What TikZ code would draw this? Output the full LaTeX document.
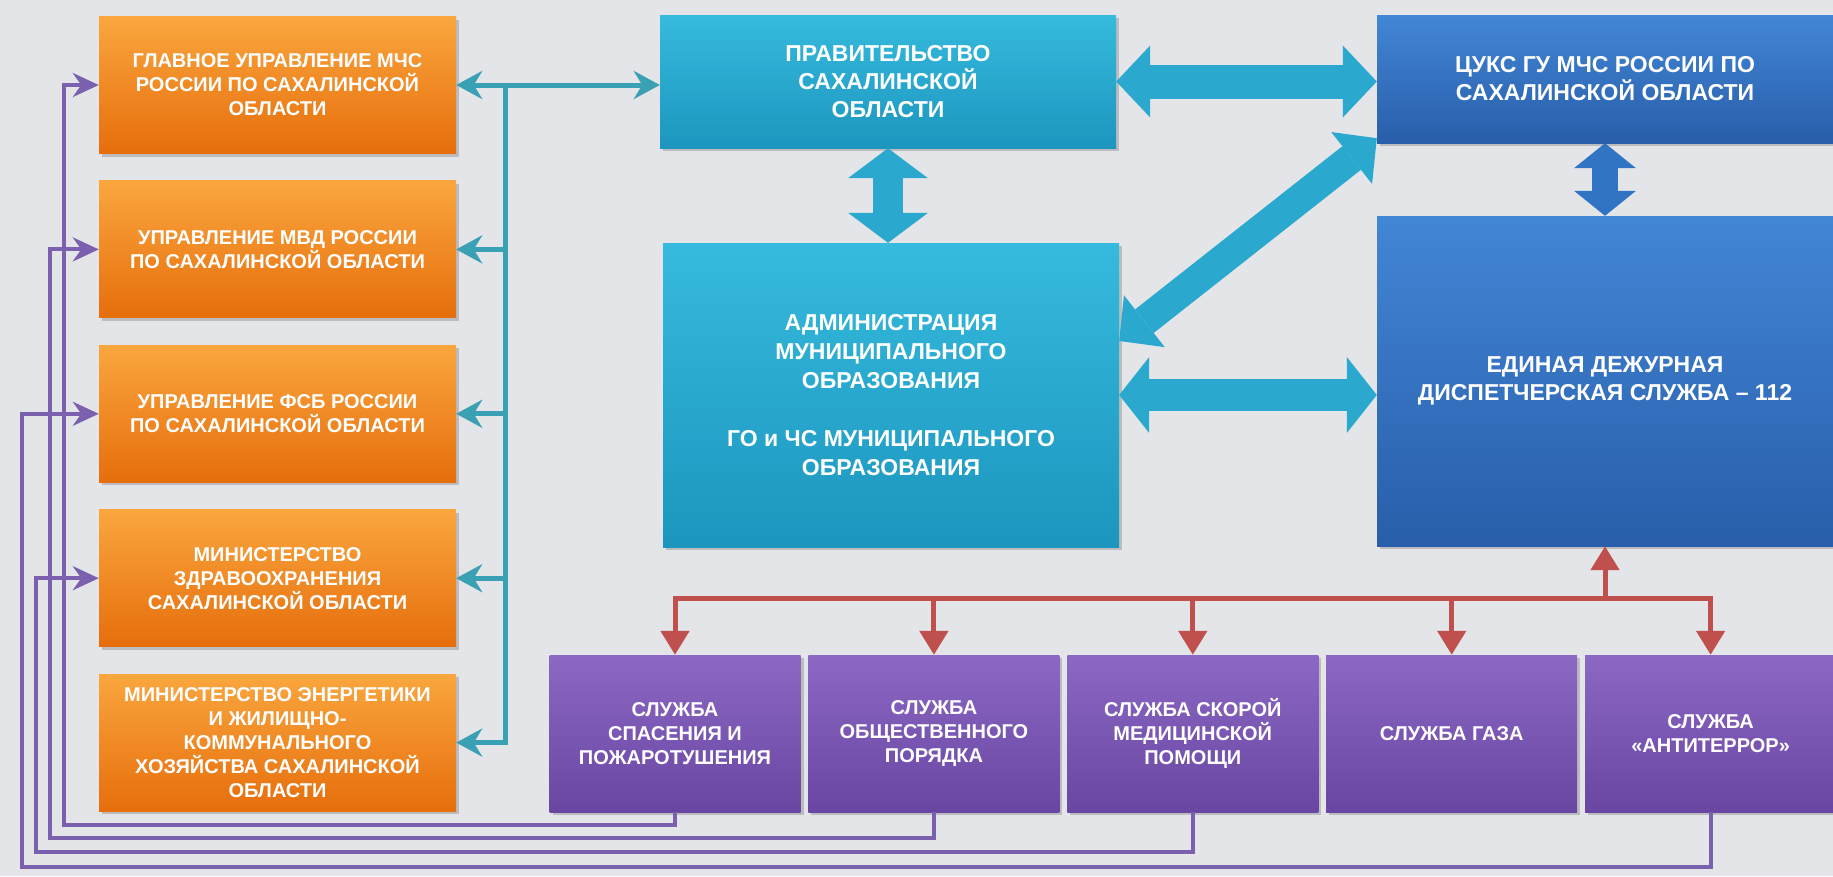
\documentclass[tikz,border=0pt]{standalone}
\usepackage{fontspec}
\setmainfont{Liberation Sans}
\usepackage{tikz}
\usetikzlibrary{arrows.meta,positioning,shadows}
\definecolor{orangetop}{RGB}{250,166,62}
\definecolor{orangebot}{RGB}{230,110,12}
\definecolor{cyantop}{RGB}{54,186,222}
\definecolor{cyanbot}{RGB}{28,150,190}
\definecolor{bluetop}{RGB}{66,134,214}
\definecolor{bluebot}{RGB}{40,94,170}
\definecolor{purptop}{RGB}{140,104,196}
\definecolor{purpbot}{RGB}{104,70,162}
\definecolor{arrcyan}{RGB}{42,168,206}
\definecolor{arrblue}{RGB}{50,116,196}
\definecolor{tealcol}{RGB}{58,160,180}
\definecolor{redcol}{RGB}{192,80,77}
\definecolor{purpcol}{RGB}{124,96,176}
\definecolor{marble}{RGB}{228,229,233}
\tikzstyle{box} = [rectangle, text=white, align=center, inner sep=0pt,
    font=\bfseries\fontsize{20}{24}\selectfont,
    drop shadow={opacity=0.4, shadow xshift=3pt, shadow yshift=-3pt}]
\tikzstyle{obox} = [box, top color=orangetop, bottom color=orangebot, minimum width=357pt, minimum height=137pt]
\tikzstyle{pbox} = [box, top color=purptop, bottom color=purpbot, minimum width=251pt, minimum height=157pt]
\tikzstyle{cbox} = [box, top color=cyantop, bottom color=cyanbot, minimum width=456pt, font=\bfseries\fontsize{23}{28}\selectfont]
\tikzstyle{bbox} = [box, top color=bluetop, bottom color=bluebot, minimum width=456pt, font=\bfseries\fontsize{23}{28}\selectfont]
\tikzstyle{tline} = [draw=tealcol, line width=5pt, line cap=rect]
\tikzstyle{tarrow} = [draw=tealcol, line width=5pt, -{Stealth[length=26pt,width=28pt]}]
\tikzstyle{tboth} = [draw=tealcol, line width=5pt, {Stealth[length=26pt,width=28pt]}-{Stealth[length=26pt,width=28pt]}]
\tikzstyle{rline} = [draw=redcol, line width=5pt, line cap=rect]
\tikzstyle{rarrow} = [draw=redcol, line width=5pt, -{Triangle[length=24pt,width=28pt]}]
\tikzstyle{parrow} = [draw=purpcol, line width=4pt, -{Stealth[length=26pt,width=24pt]}]
\tikzset{bigarrow/.style n args={3}{line width=#1,
    {Triangle[length=#2,width=#3,line width=0pt]}-{Triangle[length=#2,width=#3,line width=0pt]}}}

\begin{document}
\begin{tikzpicture}[x=1pt, y=-1pt, node distance=27pt]
    \useasboundingbox (0,0) rectangle (1833,876);
    \fill [marble] (0,0) rectangle (1833,876);

    % Place nodes
    \node [obox] (o1) at (277.5,85) {ГЛАВНОЕ УПРАВЛЕНИЕ МЧС\\РОССИИ ПО САХАЛИНСКОЙ\\ОБЛАСТИ};
    \node [obox, below = of o1] (o2) {УПРАВЛЕНИЕ МВД РОССИИ\\ПО САХАЛИНСКОЙ ОБЛАСТИ};
    \node [obox, below = of o2] (o3) {УПРАВЛЕНИЕ ФСБ РОССИИ\\ПО САХАЛИНСКОЙ ОБЛАСТИ};
    \node [obox, below = of o3] (o4) {МИНИСТЕРСТВО\\ЗДРАВООХРАНЕНИЯ\\САХАЛИНСКОЙ ОБЛАСТИ};
    \node [obox, below = of o4] (o5) {МИНИСТЕРСТВО ЭНЕРГЕТИКИ\\И ЖИЛИЩНО-\\КОММУНАЛЬНОГО\\ХОЗЯЙСТВА САХАЛИНСКОЙ\\ОБЛАСТИ};

    \node [cbox, minimum height=133pt] (prav) at (888,81.5) {ПРАВИТЕЛЬСТВО\\САХАЛИНСКОЙ\\ОБЛАСТИ};
    \node [cbox, minimum height=304pt, font=\bfseries\fontsize{23}{29}\selectfont] (adm) at (891,395)
        {АДМИНИСТРАЦИЯ\\МУНИЦИПАЛЬНОГО\\ОБРАЗОВАНИЯ\\[29pt]ГО и ЧС МУНИЦИПАЛЬНОГО\\ОБРАЗОВАНИЯ};
    \node [bbox, minimum height=128pt] (cuks) at (1605,79) {ЦУКС ГУ МЧС РОССИИ ПО\\САХАЛИНСКОЙ ОБЛАСТИ};
    \node [bbox, minimum height=330pt] (edds) at (1605,381) {ЕДИНАЯ ДЕЖУРНАЯ\\ДИСПЕТЧЕРСКАЯ СЛУЖБА – 112};

    \node [pbox] (p1) at (675,733.5) {СЛУЖБА\\СПАСЕНИЯ И\\ПОЖАРОТУШЕНИЯ};
    \node [pbox, right = 7.5pt of p1] (p2) {СЛУЖБА\\ОБЩЕСТВЕННОГО\\ПОРЯДКА};
    \node [pbox, right = 7.5pt of p2] (p3) {СЛУЖБА СКОРОЙ\\МЕДИЦИНСКОЙ\\ПОМОЩИ};
    \node [pbox, right = 7.5pt of p3] (p4) {СЛУЖБА ГАЗА};
    \node [pbox, right = 7.5pt of p4] (p5) {СЛУЖБА\\«АНТИТЕРРОР»};

    % big arrows between the main blocks
    \draw [bigarrow={34pt}{34pt}{72pt}, draw=arrcyan] (prav.east) -- (prav.east -| cuks.west);
    \draw [bigarrow={30pt}{30pt}{80pt}, draw=arrcyan] (prav.south) -- (prav.south |- adm.north);
    \draw [bigarrow={30pt}{32pt}{66pt}, draw=arrcyan] ([yshift=5pt]cuks.south west) -- ([yshift=54pt]adm.east);
    \draw [bigarrow={32pt}{30pt}{76pt}, draw=arrcyan] (adm.east) -- (adm.east -| edds.west);
    \draw [bigarrow={26pt}{25pt}{62pt}, draw=arrblue] (cuks.south) -- (edds.north);

    % teal bus to the regional bodies
    \coordinate (tbus) at (505,0);
    \draw [tboth] (o1.east) -- (o1.east -| prav.west);
    \draw [tline] (o1.east -| tbus) -- (o5.east -| tbus);
    \foreach \n in {o2,o3,o4,o5}
        \draw [tarrow] (\n.east -| tbus) -- (\n.east);

    % red bus to the services
    \coordinate (rbus) at (0,598);
    \draw [rarrow] (edds.south |- rbus) -- (edds.south);
    \draw [rline] (p1.north |- rbus) -- (p5.north |- rbus);
    \foreach \n in {p1,p2,p3,p4,p5}
        \draw [rarrow] (\n.north |- rbus) -- (\n.north);

    % purple returns
    \coordinate (v1) at (64,825);
    \coordinate (v2) at (50,838);
    \coordinate (v3) at (36,852);
    \coordinate (v4) at (22,867);
    \draw [parrow] (p1.south) |- (v1) |- (o1.west);
    \draw [parrow] (p2.south) |- (v2) |- (o2.west);
    \draw [parrow] (p3.south) |- (v3) |- (o4.west);
    \draw [parrow] (p5.south) |- (v4) |- (o3.west);
\end{tikzpicture}
\end{document}
